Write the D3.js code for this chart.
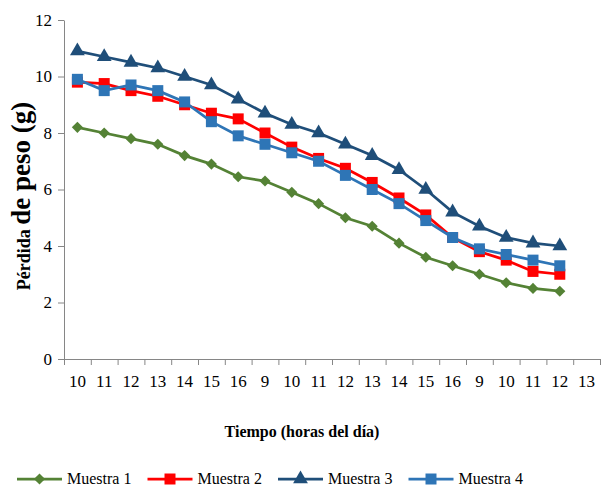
<!DOCTYPE html>
<html>
<head>
<meta charset="utf-8">
<script src="https://cdn.jsdelivr.net/npm/d3@7"></script>
<style>
body { margin: 0; background: #fff; }
svg text { font-family: "Liberation Serif", "Times New Roman", serif !important; fill: #000; }
</style>
</head>
<body>
<div id="chart"></div>
<script>
// categories: hour of the day, three days in a row
var horas = ["10","11","12","13","14","15","16","9","10","11","12","13","14","15","16","9","10","11","12","13"];
var yTicks = [0, 2, 4, 6, 8, 10, 12];

var muestra1 = [8.2, 8.0, 7.8, 7.6, 7.2, 6.9, 6.45, 6.3, 5.9, 5.5, 5.0, 4.7, 4.1, 3.6, 3.3, 3.0, 2.7, 2.5, 2.4];
var muestra2 = [9.8, 9.75, 9.5, 9.3, 9.0, 8.7, 8.5, 8.0, 7.5, 7.1, 6.75, 6.25, 5.7, 5.1, 4.3, 3.8, 3.5, 3.1, 3.0];
var muestra3 = [10.9, 10.7, 10.5, 10.3, 10.0, 9.7, 9.2, 8.7, 8.3, 8.0, 7.6, 7.2, 6.7, 6.0, 5.2, 4.7, 4.3, 4.1, 4.0];
var muestra4 = [9.9, 9.5, 9.7, 9.5, 9.1, 8.4, 7.9, 7.6, 7.3, 7.0, 6.5, 6.0, 5.5, 4.9, 4.3, 3.9, 3.7, 3.5, 3.3];

var series = [
  { name: "Muestra 1", values: muestra1, color: "#548235", marker: "diamond" },
  { name: "Muestra 2", values: muestra2, color: "#ff0000", marker: "square" },
  { name: "Muestra 3", values: muestra3, color: "#1f4e79", marker: "triangle" },
  { name: "Muestra 4", values: muestra4, color: "#2e75b6", marker: "square" }
];

var width = 606, height = 487;
var plotL = 64, plotR = 600, plotT = 20, plotB = 359;

var svg = d3.select("#chart").append("svg")
  .attr("width", width)
  .attr("height", height);

var x = d3.scaleBand().domain(d3.range(horas.length)).range([plotL, plotR]);
var xEdge = d3.scaleLinear().domain([0, horas.length]).range([plotL, plotR]);
var y = d3.scaleLinear().domain([0, 12]).range([plotB, plotT]);

// y axis
var yAxis = svg.append("g")
  .attr("transform", "translate(" + plotL + ",0)")
  .call(d3.axisLeft(y).tickValues(yTicks).tickSize(6).tickSizeOuter(0).tickPadding(6));
yAxis.attr("font-family", null);
yAxis.selectAll("text").style("font-size", "17px");

// x axis: boundary ticks + centred labels
var xTickG = svg.append("g")
  .attr("transform", "translate(0," + plotB + ")")
  .call(d3.axisBottom(xEdge).tickValues(d3.range(horas.length + 1)).tickFormat("").tickSize(6).tickSizeOuter(0));
var xLab = svg.append("g")
  .attr("transform", "translate(0," + plotB + ")")
  .call(d3.axisBottom(x).tickSize(0).tickPadding(16).tickFormat(function(i) { return horas[i]; }));
xLab.attr("font-family", null);
xLab.select(".domain").remove();
xLab.selectAll("text").style("font-size", "17px");

svg.selectAll(".domain, .tick line").attr("stroke", "#868686").attr("stroke-width", 1);

function markerPath(type) {
  if (type == "diamond") return d3.symbol().type(d3.symbolSquare).size(62)();
  if (type == "triangle") return d3.symbol().type(d3.symbolTriangle).size(95)();
  return d3.symbol().type(d3.symbolSquare).size(121)();
}

var line = d3.line()
  .x(function(d, i) { return x(i) + x.bandwidth() / 2; })
  .y(function(d) { return y(d); });

series.forEach(function(s) {
  var g = svg.append("g");
  g.append("path")
    .attr("d", line(s.values))
    .attr("fill", "none")
    .attr("stroke", s.color)
    .attr("stroke-width", 2.75);
  g.selectAll("path.mk")
    .data(s.values)
    .enter().append("path")
    .attr("class", "mk")
    .attr("d", markerPath(s.marker))
    .attr("fill", s.color)
    .attr("transform", function(d, i) {
      var t = "translate(" + (x(i) + x.bandwidth() / 2) + "," + y(d) + ")";
      return s.marker == "diamond" ? t + " rotate(45)" : t;
    });
});

// axis titles
svg.append("text")
  .attr("x", 302).attr("y", 437)
  .attr("text-anchor", "middle")
  .style("font-size", "16px").style("font-weight", "bold")
  .text("Tiempo (horas del día)");

var yt = svg.append("text")
  .attr("transform", "translate(30,196) rotate(-90)")
  .attr("text-anchor", "middle")
  .style("font-weight", "bold");
yt.append("tspan").style("font-size", "18px").text("Pérdida ");
yt.append("tspan").style("font-size", "27px").text("de peso (g)");

// legend
var legend = svg.selectAll("g.legend")
  .data(series)
  .enter().append("g")
  .attr("class", "legend")
  .attr("transform", function(d, i) { return "translate(" + (17 + i * 130.5) + ",479)"; });
legend.append("line")
  .attr("x1", 0).attr("x2", 45)
  .attr("stroke", function(d) { return d.color; })
  .attr("stroke-width", 2.75);
legend.append("path")
  .attr("d", function(d) { return markerPath(d.marker); })
  .attr("fill", function(d) { return d.color; })
  .attr("transform", function(d) { return "translate(22.5,0)" + (d.marker == "diamond" ? " rotate(45)" : ""); });
legend.append("text")
  .attr("x", 50).attr("y", 5)
  .style("font-size", "16px")
  .text(function(d) { return d.name; });
</script>
</body>
</html>
